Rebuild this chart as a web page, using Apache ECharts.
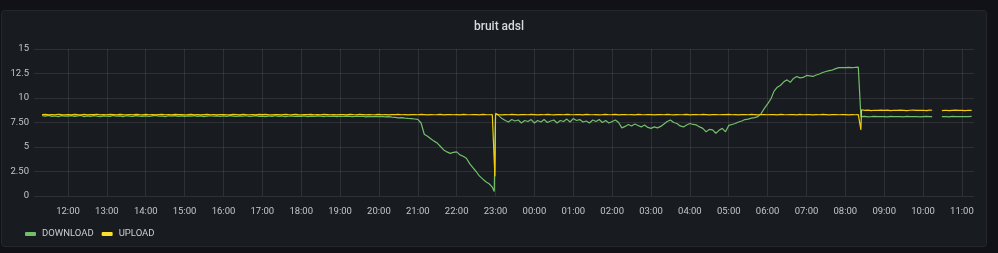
<!DOCTYPE html>
<html>
<head>
<meta charset="utf-8">
<script src="https://cdn.jsdelivr.net/npm/echarts@6/dist/echarts.min.js"></script>
<style>
html,body{margin:0;padding:0;background:#111217;}
#chart{width:998px;height:253px;}
</style>
</head>
<body>
<div id="chart"></div>
<script>
// ---- data (minutes counted from 12:00 on day 1, one sample every 5 minutes from 11:20) ----
const seriesNames = ['DOWNLOAD', 'UPLOAD'];
const yTickLabels = ['0', '2.50', '5', '7.50', '10', '12.5', '15'];
const startMinute = -40;   // 11:20
const stepMinutes = 5;

const download = [
  8.20,8.15,8.22,8.12,8.18,8.10,8.20,8.16,
  8.14,8.20,8.12,8.18,8.22,8.10,8.17,8.13,8.20,8.15,8.09,8.18,
  8.16,8.12,8.21,8.14,8.18,8.10,8.19,8.15,8.12,8.20,8.16,8.13,
  8.18,8.11,8.17,8.22,8.14,8.16,8.10,8.19,8.15,8.20,8.13,8.17,
  8.12,8.18,8.15,8.21,8.13,8.17,8.10,8.16,8.19,8.14,8.18,8.11,
  8.17,8.13,8.20,8.15,8.11,8.18,8.14,8.19,8.12,8.16,8.21,8.13,
  8.15,8.10,8.17,8.13,8.19,8.12,8.16,8.09,8.14,8.18,8.11,8.15,
  8.13,8.17,8.10,8.15,8.12,8.18,8.14,8.09,8.16,8.12,8.15,8.10,
  8.14,8.11,8.16,8.12,8.09,8.15,8.11,8.14,8.08,8.13,8.10,8.12,
  8.09,8.12,8.07,8.10,8.05,8.03,7.98,8.00,7.95,7.92,7.90,7.86,
  7.82,7.45,6.30,6.10,5.85,5.60,5.40,5.05,4.70,4.50,4.35,4.45,
  4.50,4.20,4.05,3.85,3.30,2.90,2.50,2.05,1.75,1.45,1.25,0.90,
  8.45,8.20,7.90,7.70,7.55,7.80,7.65,7.75,7.45,7.70,7.60,7.80,
  7.45,7.70,7.55,7.80,7.50,7.65,7.75,7.45,7.70,7.60,7.85,7.55,
  7.90,7.70,7.80,7.55,7.65,7.45,7.75,7.60,7.80,7.50,7.70,7.45,
  7.60,7.75,7.50,6.95,7.10,7.30,7.15,7.35,7.20,7.05,7.25,7.00,
  6.90,7.05,6.95,7.10,7.35,7.60,7.75,7.50,7.40,7.15,7.05,7.25,
  7.40,7.30,7.25,7.05,6.90,6.55,6.80,6.75,6.40,6.70,6.90,6.55,
  7.20,7.30,7.40,7.55,7.65,7.80,7.85,7.95,8.00,8.10,8.40,8.95,
  9.40,9.90,10.70,11.10,11.30,11.65,11.85,11.60,12.00,12.20,12.05,12.10,
  12.30,12.25,12.20,12.35,12.45,12.60,12.70,12.80,12.85,13.00,13.10,13.10,
  13.10,13.12,13.10,13.12,13.15,8.10,8.12,8.08,8.10,8.13,8.09,8.11,
  8.10,8.08,8.12,8.09,8.11,8.10,8.07,8.12,8.10,8.09,8.11,8.08,
  8.10,8.12,8.09,null,null,null,8.11,8.10,8.08,8.12,8.09,8.10,
  8.11,8.09,8.10,8.12
];

const upload = [
  8.30,8.33,8.28,8.31,8.29,8.34,8.30,8.27,
  8.31,8.28,8.33,8.30,8.29,8.32,8.27,8.31,8.30,8.34,8.28,8.30,
  8.29,8.32,8.30,8.27,8.33,8.30,8.28,8.31,8.29,8.33,8.30,8.28,
  8.32,8.29,8.31,8.27,8.30,8.33,8.29,8.30,8.28,8.32,8.30,8.31,
  8.28,8.30,8.33,8.29,8.31,8.27,8.30,8.32,8.29,8.31,8.28,8.30,
  8.31,8.29,8.27,8.32,8.30,8.28,8.33,8.30,8.29,8.31,8.28,8.32,
  8.30,8.33,8.29,8.28,8.31,8.30,8.27,8.32,8.30,8.29,8.33,8.30,
  8.28,8.31,8.30,8.33,8.29,8.30,8.28,8.32,8.31,8.29,8.30,8.27,
  8.31,8.30,8.28,8.33,8.30,8.29,8.32,8.30,8.28,8.31,8.29,8.30,
  8.32,8.29,8.30,8.28,8.31,8.30,8.33,8.29,8.30,8.28,8.31,8.30,
  8.29,8.32,8.30,8.28,8.31,8.29,8.30,8.33,8.28,8.30,8.31,8.29,
  8.30,8.28,8.32,8.30,8.29,8.31,8.30,8.27,8.32,8.30,8.29,8.30,
  8.35,8.30,8.28,8.31,8.29,8.32,8.30,8.28,8.31,8.30,8.29,8.32,
  8.30,8.28,8.31,8.29,8.33,8.30,8.28,8.31,8.30,8.29,8.32,8.30,
  8.29,8.31,8.30,8.28,8.32,8.30,8.29,8.31,8.28,8.30,8.33,8.29,
  8.30,8.32,8.28,8.30,8.31,8.29,8.30,8.28,8.32,8.30,8.29,8.31,
  8.30,8.28,8.31,8.30,8.29,8.33,8.30,8.28,8.31,8.29,8.30,8.32,
  8.28,8.30,8.31,8.29,8.32,8.30,8.28,8.31,8.30,8.29,8.31,8.30,
  8.32,8.29,8.30,8.28,8.31,8.30,8.29,8.32,8.30,8.28,8.31,8.30,
  8.29,8.31,8.30,8.28,8.32,8.30,8.29,8.31,8.30,8.28,8.32,8.29,
  8.30,8.31,8.28,8.30,8.29,8.32,8.30,8.28,8.31,8.30,8.29,8.31,
  8.30,8.28,8.31,8.29,8.30,8.80,8.74,8.76,8.72,8.75,8.73,8.77,
  8.74,8.76,8.72,8.75,8.73,8.77,8.74,8.71,8.75,8.76,8.73,8.74,
  8.75,8.72,8.76,null,null,null,8.73,8.75,8.71,8.74,8.76,8.73,
  8.74,8.72,8.75,8.73
];

// extra samples at the sharp edges (minutes from 12:00)
const edgeMinutes  = [658, 659, 1223, 1224, 1334, 1349];
const edgeDownload = [0.45, 0.30, 13.25, 8.10, 8.10, 8.10];
const edgeUpload   = [8.30, 2.00, 8.30, 6.75, 8.75, 8.72];

// ---- build ----
const base = new Date(2021, 2, 10, 12, 0, 0).getTime();
const toTime = m => base + m * 60000;

function buildPoints(values, edgeValues) {
  const pts = values.map((v, i) => [startMinute + i * stepMinutes, v]);
  edgeMinutes.forEach((m, i) => pts.push([m, edgeValues[i]]));
  pts.sort((a, b) => a[0] - b[0]);
  return pts.map(p => [toTime(p[0]), p[1]]);
}

const pad = n => (n < 10 ? '0' : '') + n;
const axisText = '#c4c5cc';
const gridColor = 'rgba(204,204,220,0.12)';

const chart = echarts.init(document.getElementById('chart'), null, {renderer: 'canvas'});
chart.setOption({
  animation: false,
  backgroundColor: '#111217',
  graphic: [{
    type: 'rect', z: -10, silent: true,
    shape: {x: 1.5, y: 10.5, width: 985, height: 236, r: 3},
    style: {fill: '#181b1f', stroke: '#24272c', lineWidth: 1}
  }],
  title: {
    text: 'bruit adsl',
    left: 494, top: 16, textAlign: 'center',
    textStyle: {color: '#d8d9dd', fontSize: 12, fontWeight: 500, fontFamily: 'Roboto'}
  },
  legend: {
    left: 20, top: 224,
    itemWidth: 11, itemHeight: 4, itemGap: 8,
    icon: 'roundRect',
    textStyle: {color: '#ccccd4', fontSize: 9.5, fontFamily: 'Roboto', padding: [0, 0, 0, 1]},
    data: seriesNames
  },
  grid: {left: 34, right: 24, top: 49, bottom: 57, containLabel: false},
  xAxis: {
    type: 'time',
    min: toTime(-52.5),
    max: toTime(1398.6),
    minInterval: 3600000,
    maxInterval: 3600000,
    splitNumber: 24,
    axisLine: {show: false},
    axisTick: {show: false},
    splitLine: {show: true, showMinLine: false, showMaxLine: false, lineStyle: {color: gridColor, width: 1}},
    axisLabel: {
      color: axisText, fontSize: 9.5, fontFamily: 'Roboto', margin: 11,
      showMinLabel: false, showMaxLabel: false,
      formatter: function (v) {
        const d = new Date(v);
        if (d.getMinutes() !== 0) return '';
        return pad(d.getHours()) + ':00';
      }
    }
  },
  yAxis: {
    type: 'value',
    min: 0, max: 15, interval: 2.5,
    axisLine: {show: false},
    axisTick: {show: false},
    splitLine: {show: true, lineStyle: {color: gridColor, width: 1}},
    axisLabel: {
      color: axisText, fontSize: 9.5, fontFamily: 'Roboto', margin: 5,
      formatter: v => yTickLabels[Math.round(v / 2.5)]
    }
  },
  series: [
    {
      name: seriesNames[0], type: 'line', showSymbol: false, connectNulls: false,
      data: buildPoints(download, edgeDownload),
      color: '#73bf69', lineStyle: {width: 1.2, color: '#73bf69'}
    },
    {
      name: seriesNames[1], type: 'line', showSymbol: false, connectNulls: false,
      data: buildPoints(upload, edgeUpload),
      color: '#fade2a', lineStyle: {width: 1.2, color: '#f2cc0c'}
    }
  ]
});
</script>
</body>
</html>
